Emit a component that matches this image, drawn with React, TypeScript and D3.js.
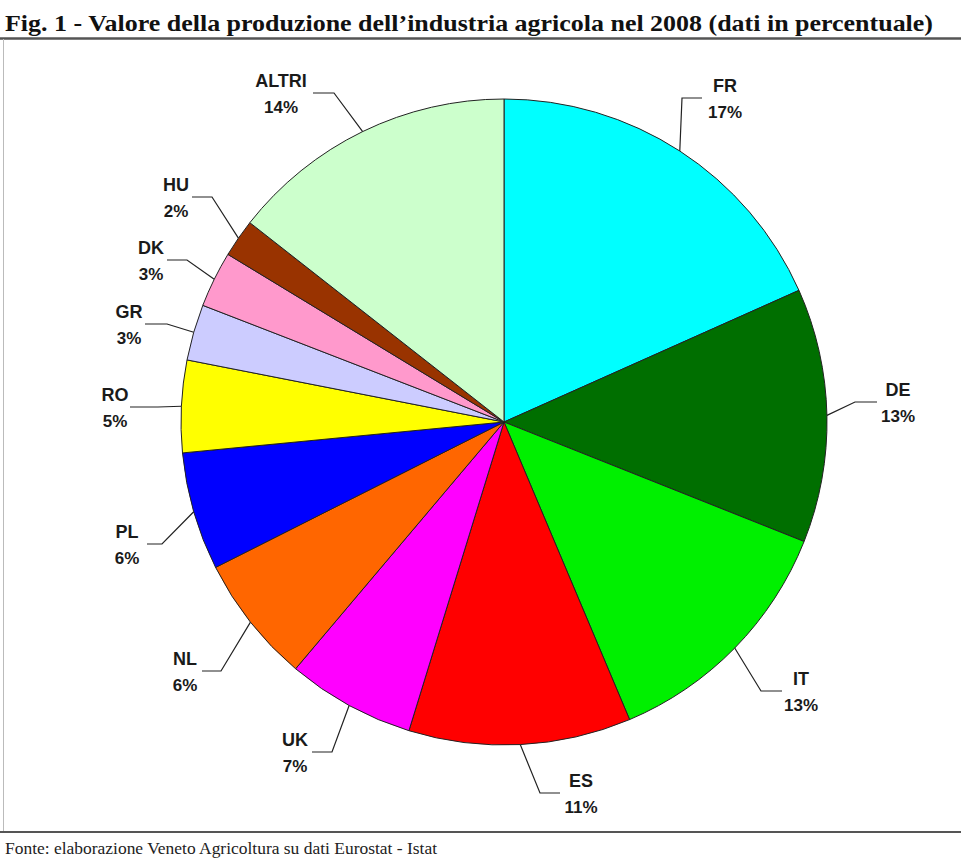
import React from "react";
import * as d3 from "d3";

// ---- data ----
const countries = ["FR", "DE", "IT", "ES", "UK", "NL", "PL", "RO", "GR", "DK", "HU", "ALTRI"];
// slice shares as drawn
const shares = [18.3, 12.7, 12.6, 11.1, 6.4, 6.4, 5.9, 4.6, 2.8, 2.8, 1.9, 14.4];
// percentages printed in the labels
const labelPct = [17, 13, 13, 11, 7, 6, 6, 5, 3, 3, 2, 14];
const colors = [
  "#00FFFF", "#006F00", "#00F000", "#FF0000", "#FF00FF", "#FF6600",
  "#0000FF", "#FFFF00", "#CCCCFF", "#FF99CC", "#993300", "#CCFFCC",
];

const title = "Fig. 1 - Valore della produzione dell\u2019industria agricola nel 2008 (dati in percentuale)";
const source = "Fonte: elaborazione Veneto Agricoltura su dati Eurostat - Istat";

// ---- label layout (position of text and leader lines) ----
// cx: text centre, ly: leader horizontal y, ex: elbow x, hx: end x next to text
const labelLayout = [
  { cx: 725, ly: 98, ex: 682, hx: 702 },
  { cx: 898, ly: 402, ex: 855, hx: 877 },
  { cx: 801, ly: 691, ex: 761, hx: 782 },
  { cx: 581, ly: 793, ex: 540, hx: 560 },
  { cx: 295, ly: 752, ex: 332, hx: 312 },
  { cx: 185, ly: 671, ex: 221, hx: 202 },
  { cx: 127, ly: 544, ex: 162, hx: 147 },
  { cx: 115, ly: 407, ex: 158, hx: 130 },
  { cx: 129, ly: 324, ex: 167, hx: 145 },
  { cx: 151, ly: 260, ex: 187, hx: 167 },
  { cx: 176, ly: 197, ex: 212, hx: 192 },
  { cx: 281, ly: 93, ex: 334, hx: 313 },
];

const W = 961;
const H = 863;
const CX = 504;
const CY = 422;
const R = 323;

export default function App() {
  const data = countries.map((c, i) => ({ c, v: shares[i], i }));
  const pie = d3.pie<any>().value((d) => d.v).sort(null).startAngle(0).endAngle(2 * Math.PI);
  const arcs = pie(data);
  const arc = d3.arc<any>().innerRadius(0).outerRadius(R);

  return (
    <svg
      width={W}
      height={H}
      style={{ position: "absolute", left: 0, top: 0, background: "#fff" }}
    >
      <rect x={0} y={0} width={W} height={H} fill="#fff" />
      <text
        x={5}
        y={31}
        fontFamily="'Liberation Serif', 'DejaVu Serif', serif"
        fontWeight="bold"
        fontSize={23}
        fill="#111"
        textLength={928}
        lengthAdjust="spacingAndGlyphs"
      >
        {title}
      </text>
      <line x1={0} x2={W} y1={38.5} y2={38.5} stroke="#555" strokeWidth={2.5} />
      <line x1={3.5} x2={3.5} y1={39} y2={832} stroke="#bbb" strokeWidth={1} />
      <line x1={0} x2={W} y1={832} y2={832} stroke="#555" strokeWidth={2} />
      <text
        x={5}
        y={854}
        fontFamily="'Liberation Serif', 'DejaVu Serif', serif"
        fontSize={17}
        fill="#222"
        textLength={432}
        lengthAdjust="spacingAndGlyphs"
      >
        {source}
      </text>

      <g transform={`translate(${CX},${CY})`}>
        {arcs.map((a, i) => (
          <path
            key={countries[i]}
            d={arc(a) as string}
            fill={colors[i]}
            stroke="#222"
            strokeWidth={1}
            strokeLinejoin="round"
          />
        ))}
      </g>

      {arcs.map((a, i) => {
        const mid = (a.startAngle + a.endAngle) / 2;
        const ax = CX + R * Math.sin(mid);
        const ay = CY - R * Math.cos(mid);
        const L = labelLayout[i];
        const pts = `${ax},${ay} ${L.ex},${L.ly} ${L.hx},${L.ly}`;
        return (
          <g key={"lab" + i}>
            <polyline points={pts} fill="none" stroke="#222" strokeWidth={1.2} />
            <text
              x={L.cx}
              y={L.ly - 6}
              textAnchor="middle"
              fontFamily="'Liberation Sans', Arial, sans-serif"
              fontWeight="bold"
              fontSize={18}
              fill="#1a1a1a"
            >
              {countries[i]}
            </text>
            <text
              x={L.cx}
              y={L.ly + 20}
              textAnchor="middle"
              fontFamily="'Liberation Sans', Arial, sans-serif"
              fontWeight="bold"
              fontSize={17}
              fill="#1a1a1a"
            >
              {labelPct[i] + "%"}
            </text>
          </g>
        );
      })}
    </svg>
  );
}
